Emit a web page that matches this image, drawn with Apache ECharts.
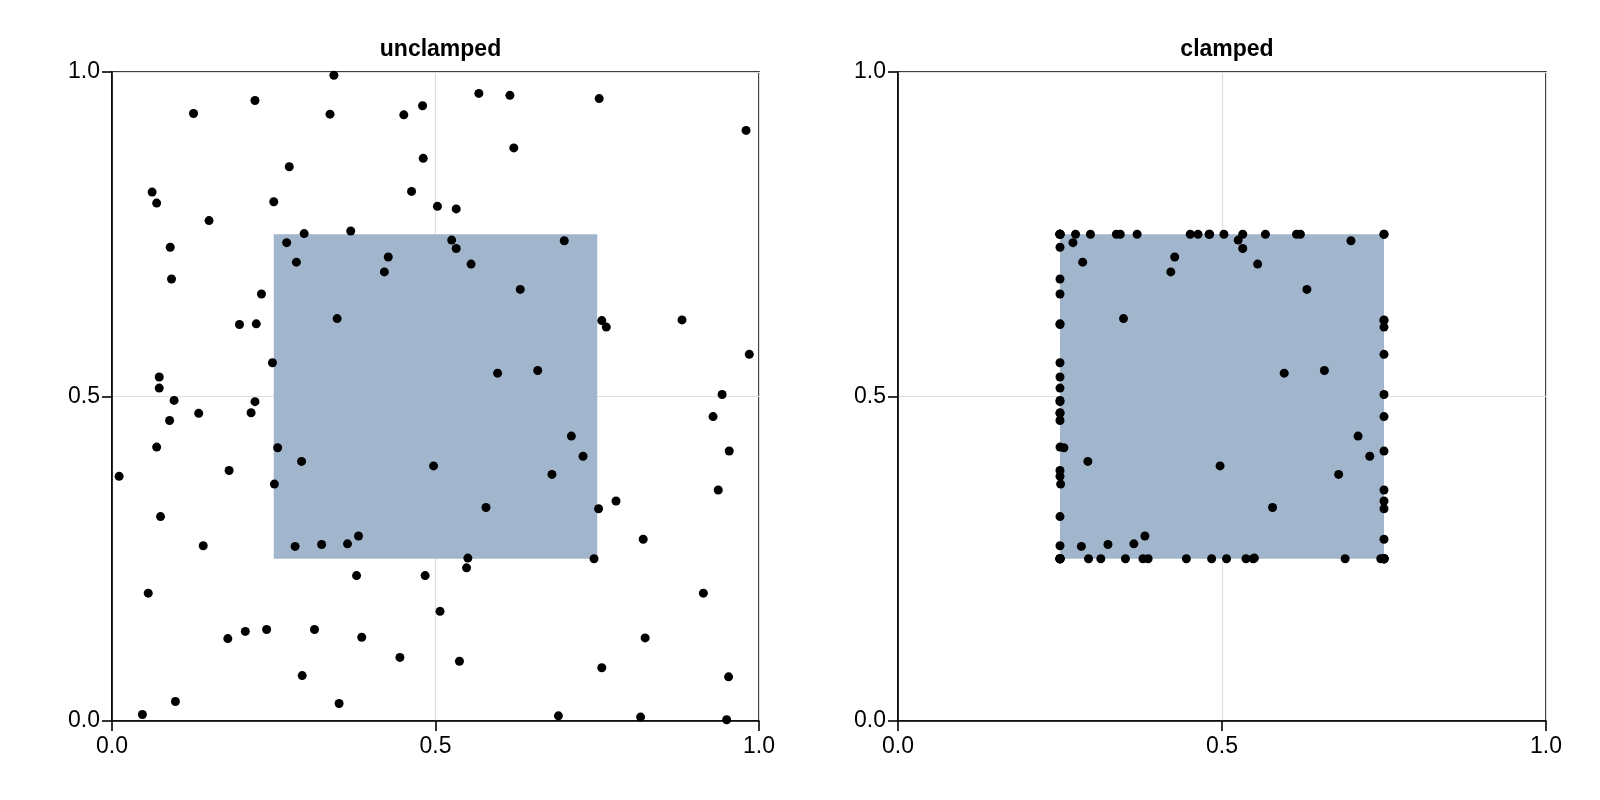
<!DOCTYPE html>
<html><head><meta charset="utf-8">
<script src="https://cdn.jsdelivr.net/npm/echarts@6/dist/echarts.min.js"></script>
<style>html,body{margin:0;padding:0;background:#fff}#c{width:1600px;height:800px}</style>
</head><body><div id="c"></div>
<script>
const titles = ['unclamped', 'clamped'];
const tickLabels = ['0.0', '0.5', '1.0'];
const boxRange = [0.25, 0.75];
const rawX = [.343,.221,.126,.337,.451,.480,.481,.274,.062,.069,.463,.250,.150,.297,.369,.270,.090,.285,.427,.421,.092,.231,.348,.197,.223,.248,.073,.073,.567,.615,.753,.980,.621,.503,.532,.525,.532,.699,.555,.631,.757,.764,.881,.985,.596,.658,.096,.221,.215,.134,.089,.069,.256,.293,.011,.181,.251,.075,.141,.283,.324,.364,.381,.378,.484,.056,.179,.206,.239,.313,.386,.445,.294,.098,.351,.943,.929,.954,.937,.710,.728,.497,.680,.779,.578,.752,.821,.550,.548,.745,.914,.507,.824,.537,.757,.953,.690,.817,.950,.047];
const rawY = [.995,.956,.936,.935,.934,.948,.867,.854,.815,.798,.816,.800,.771,.751,.755,.737,.730,.707,.715,.692,.681,.658,.620,.611,.612,.552,.530,.513,.967,.964,.959,.910,.883,.793,.789,.741,.728,.740,.704,.665,.617,.607,.618,.565,.536,.540,.494,.492,.475,.474,.463,.422,.421,.400,.377,.386,.365,.315,.270,.269,.272,.273,.285,.224,.224,.197,.127,.138,.141,.141,.129,.098,.070,.030,.027,.503,.469,.416,.356,.439,.408,.393,.380,.339,.329,.327,.280,.251,.236,.250,.197,.169,.128,.092,.082,.068,.008,.006,.002,.010];
const clampX = [.343,.25,.25,.337,.451,.48,.481,.274,.25,.25,.463,.25,.25,.297,.369,.27,.25,.285,.427,.421,.25,.25,.348,.25,.25,.25,.25,.25,.567,.615,.75,.75,.621,.503,.532,.525,.532,.699,.555,.631,.75,.75,.75,.75,.596,.658,.25,.25,.25,.25,.25,.25,.256,.293,.25,.25,.251,.25,.25,.283,.324,.364,.381,.378,.484,.25,.25,.25,.25,.313,.386,.445,.294,.25,.351,.75,.75,.75,.75,.71,.728,.497,.68,.75,.578,.75,.75,.55,.548,.745,.75,.507,.75,.537,.75,.75,.69,.75,.75,.25];
const clampY = [.75,.75,.75,.75,.75,.75,.75,.75,.75,.75,.75,.75,.75,.75,.75,.737,.73,.707,.715,.692,.681,.658,.62,.611,.612,.552,.53,.513,.75,.75,.75,.75,.75,.75,.75,.741,.728,.74,.704,.665,.617,.607,.618,.565,.536,.54,.494,.492,.475,.474,.463,.422,.421,.4,.377,.386,.365,.315,.27,.269,.272,.273,.285,.25,.25,.25,.25,.25,.25,.25,.25,.25,.25,.25,.25,.503,.469,.416,.356,.439,.408,.393,.38,.339,.329,.327,.28,.251,.25,.25,.25,.25,.25,.25,.25,.25,.25,.25,.25,.25];

const FONT = '"Liberation Sans", Arial, sans-serif';
const grids = [{left:112, top:72, width:647, height:649}, {left:898, top:72, width:648, height:649}];
function axis(i, isX) {
  return {
    gridIndex: i, type: 'value', min: 0, max: 1, interval: 0.5,
    axisLine: {show: true, onZero: false, lineStyle: {color: '#000', width: 1.6}},
    axisTick: {show: true, length: 10, lineStyle: {color: '#000', width: 1.6}},
    axisLabel: {color: '#000', fontSize: 23, fontFamily: FONT, margin: isX ? 14 : 12,
      formatter: v => tickLabels[Math.round(v * 2)]},
    splitLine: {show: true, lineStyle: {color: '#dedede', width: 1.2}}
  };
}
function series(i, xs, ys) {
  return {
    type: 'scatter', xAxisIndex: i, yAxisIndex: i, symbolSize: 9,
    itemStyle: {color: '#000', opacity: 1}, z: 5,
    data: xs.map((x, k) => [x, ys[k]]),
    markArea: {silent: true, itemStyle: {color: '#a1b6cd', opacity: 1},
      data: [[{coord: [boxRange[0], boxRange[0]]}, {coord: [boxRange[1], boxRange[1]]}]]}
  };
}
const chart = echarts.init(document.getElementById('c'));
chart.setOption({
  animation: false,
  title: titles.map((t, i) => ({text: t, left: grids[i].left + grids[i].width / 2, top: 33, textAlign: 'center',
    textStyle: {fontSize: 23, fontWeight: 'bold', color: '#000', fontFamily: FONT}})),
  grid: grids.map(g => Object.assign({show: true, borderColor: '#000', borderWidth: 1.6, backgroundColor: 'transparent'}, g)),
  xAxis: [axis(0, true), axis(1, true)],
  yAxis: [axis(0, false), axis(1, false)],
  series: [series(0, rawX, rawY), series(1, clampX, clampY)]
});
</script></body></html>
